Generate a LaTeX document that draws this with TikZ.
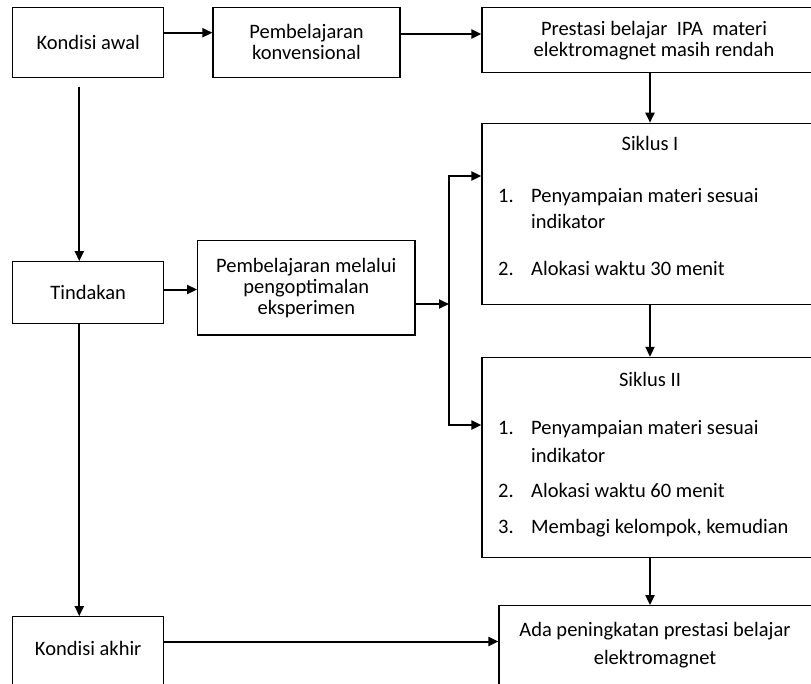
\documentclass[tikz,border=0pt]{standalone}
\usepackage{fontspec}
\setmainfont{Carlito}
\usetikzlibrary{arrows.meta}
\begin{document}
\begin{tikzpicture}[x=1pt,y=-1pt,
  box/.style={draw,line width=1.2pt,inner sep=0pt,align=center,font=\fontsize{20.5pt}{21pt}\selectfont},
  txt/.style={inner sep=0pt,align=center,font=\fontsize{20.5pt}{28pt}\selectfont},
  item/.style={anchor=base west,inner sep=0pt,font=\fontsize{20.5pt}{24pt}\selectfont},
  arr/.style={line width=2pt,-{Triangle[length=10pt,width=9pt]}}]
\node[box,minimum width=151pt,minimum height=70pt] (awal) at (88.2,42.3) {Kondisi awal};
\node[box,minimum width=187pt,minimum height=70pt] (konv) at (306.5,42.3) {Pembelajaran\\konvensional};
\node[box,minimum width=344pt,minimum height=65pt] (rendah) at (654,40.2) {Prestasi belajar\ \ IPA\ \ materi\\elektromagnet masih rendah};
\node[box,minimum width=336pt,minimum height=181pt] (siklus1) at (650,213.8) {};
\node[box,minimum width=336pt,minimum height=200pt] (siklus2) at (650,457.4) {};
\node[box,minimum width=151pt,minimum height=61.6pt] (tind) at (88.2,292.5) {Tindakan};
\node[box,minimum width=217.3pt,minimum height=94.3pt] (eksp) at (306.3,287.8) {Pembelajaran melalui\\pengoptimalan\\eksperimen};
\node[box,minimum width=151pt,minimum height=90pt] (akhir) at (88.2,661.7) {};
\node[box,minimum width=319pt,minimum height=100pt] (ada) at (658.5,655.7) {};

\node[txt,anchor=base] (judul1) at (650,150) {Siklus I};
\node[item] (s1no1) at (498,202) {1.};
\node[item] (s1baris1) at (531,202) {Penyampaian materi sesuai};
\node[item] (s1baris2) at (531,228.5) {indikator};
\node[item] (s1no2) at (498,275) {2.};
\node[item] (s1baris3) at (531,275) {Alokasi waktu 30 menit};

\node[txt,anchor=base] (judul2) at (650,386) {Siklus II};
\node[item] (s2no1) at (498,434.5) {1.};
\node[item] (s2baris1) at (531,434.5) {Penyampaian materi sesuai};
\node[item] (s2baris2) at (531,462) {indikator};
\node[item] (s2no2) at (498,497) {2.};
\node[item] (s2baris3) at (531,497) {Alokasi waktu 60 menit};
\node[item] (s2no3) at (498,533) {3.};
\node[item] (s2baris4) at (531,533) {Membagi kelompok, kemudian};

\node[txt,anchor=base] (akhirtxt) at (88.2,655) {Kondisi akhir};
\node[txt] (adatxt) at (655,645.5) {Ada peningkatan prestasi belajar\\elektromagnet};

\coordinate (cabang) at (449,304);
\draw[arr] ([yshift=9.6pt]awal.east) -- ([yshift=9.6pt]konv.west);
\draw[arr] ([yshift=8.3pt]konv.east) -- ([yshift=6.2pt]rendah.west);
\draw[arr] (rendah.south -| siklus1.north) -- (siklus1.north);
\draw[arr] (siklus1.south) -- (siklus2.north);
\draw[arr] (siklus2.south) -- (siklus2.south |- ada.north);
\draw[arr] ([xshift=-8.9pt,yshift=-8.7pt]awal.south) -- ([xshift=-8.9pt]tind.north);
\draw[arr] ([xshift=-8.9pt]tind.south) -- ([xshift=-8.9pt]akhir.north);
\draw[arr] ([yshift=3pt]tind.east) -- ([yshift=3pt]tind.east -| eksp.west);
\draw[arr] ([yshift=-16.2pt]eksp.east) -- (cabang);
\draw[arr] (cabang) |- ([yshift=37.8pt]siklus1.west);
\draw[arr] (cabang) |- ([yshift=32.4pt]siklus2.west);
\draw[arr] ([yshift=20.2pt]akhir.east) -- ([yshift=20.2pt]akhir.east -| ada.west);
\pgfresetboundingbox
\useasboundingbox (0,0) rectangle (811,683);
\end{tikzpicture}
\end{document}
